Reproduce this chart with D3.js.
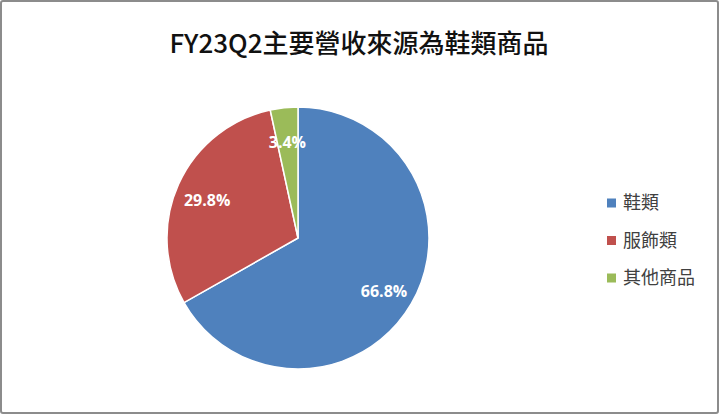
<!DOCTYPE html>
<html>
<head>
<meta charset="utf-8">
<script src="https://cdn.jsdelivr.net/npm/d3@7"></script>
<style>
  html, body { margin: 0; padding: 0; background: #fff; }
  svg { display: block; }
</style>
</head>
<body>
<svg id="chart" width="720" height="415"></svg>
<script>
// chart data
const categories = ["鞋類", "服飾類", "其他商品"];
const shares = [66.8, 29.8, 3.4];
const colors = ["#4F81BD", "#C0504D", "#9BBB59"];
const title = "FY23Q2主要營收來源為鞋類商品";

const width = 720;
const height = 415;
const cx = 298;
const cy = 238;
const radius = 131;

const svg = d3.select("#chart");

// outer frame
svg.append("rect")
  .attr("x", 1)
  .attr("y", 1)
  .attr("width", width - 3)
  .attr("height", height - 3)
  .attr("rx", 2)
  .attr("fill", "#fff")
  .attr("stroke", "#8c8c8c")
  .attr("stroke-width", 2);

svg.append("text")
  .attr("x", 359)
  .attr("y", 53)
  .attr("text-anchor", "middle")
  .attr("font-family", "'Noto Sans CJK TC', 'Noto Sans', sans-serif")
  .attr("font-size", 26)
  .attr("font-weight", 500)
  .attr("fill", "#111")
  .text(title);

const data = categories.map((c, i) => ({ name: c, value: shares[i], color: colors[i] }));

const pie = d3.pie().value((d) => d.value).sort(null);
const arc = d3.arc().innerRadius(0).outerRadius(radius);
const labelArc = d3.arc().innerRadius(radius * 0.76).outerRadius(radius * 0.76);

const g = svg.append("g").attr("transform", `translate(${cx},${cy})`);
const arcs = pie(data);

g.selectAll("path")
  .data(arcs)
  .join("path")
  .attr("d", arc)
  .attr("fill", (d) => d.data.color)
  .attr("stroke", "#fff")
  .attr("stroke-width", 1.5);

g.selectAll("text")
  .data(arcs)
  .join("text")
  .attr("transform", (d) => {
    const [x, y] = labelArc.centroid(d);
    return `translate(${x},${y + 3})`;
  })
  .attr("text-anchor", "middle")
  .attr("dy", "0.35em")
  .attr("font-family", "'Open Sans', 'DejaVu Sans', sans-serif")
  .attr("font-weight", "bold")
  .attr("font-size", 16)
  .attr("fill", "#fff")
  .text((d) => d.data.value.toFixed(1) + "%");

// legend
const legend = svg.append("g").attr("transform", "translate(607,203)");
const item = legend.selectAll("g")
  .data(data)
  .join("g")
  .attr("transform", (d, i) => `translate(0,${i * 37.5})`);

item.append("rect")
  .attr("x", 0)
  .attr("y", -4.5)
  .attr("width", 9)
  .attr("height", 9)
  .attr("fill", (d) => d.color);

item.append("text")
  .attr("x", 16)
  .attr("dy", "0.35em")
  .attr("font-family", "'Noto Sans CJK TC', sans-serif")
  .attr("font-size", 18)
  .attr("fill", "#404040")
  .text((d) => d.name);
</script>
</body>
</html>
